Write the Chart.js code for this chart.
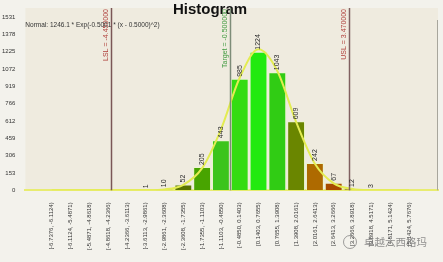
<!DOCTYPE html>
<html>
<head>
<meta charset="utf-8">
<script src="https://cdn.jsdelivr.net/npm/chart.js@4.4.1/dist/chart.umd.min.js"></script>
<style>
    html, body { margin: 0; padding: 0; background: #f3f2ec; }
    canvas { display: block; }
</style>
</head>
<body>
<canvas id="histogram-chart" width="443" height="262"></canvas>
<script>
const binEdges = [-6.7376, -6.1124, -5.4871, -4.8618, -4.2366, -3.6113, -2.9861, -2.3608, -1.7355, -1.1103,
    -0.4850, 0.1403, 0.7655, 1.3908, 2.0161, 2.6413, 3.2666, 3.8918, 4.5171, 5.1424, 5.7676];
const binLabels = ['[-6.7376, -6.1124)', '[-6.1124, -5.4871)', '[-5.4871, -4.8618)', '[-4.8618, -4.2366)',
    '[-4.2366, -3.6113)', '[-3.6113, -2.9861)', '[-2.9861, -2.3608)', '[-2.3608, -1.7355)',
    '[-1.7355, -1.1103)', '[-1.1103, -0.4850)', '[-0.4850, 0.1403)', '[0.1403, 0.7655)',
    '[0.7655, 1.3908)', '[1.3908, 2.0161)', '[2.0161, 2.6413)', '[2.6413, 3.2666)',
    '[3.2666, 3.8918)', '[3.8918, 4.5171)', '[4.5171, 5.1424)', '[5.1424, 5.7676)'];
const counts = [0, 0, 0, 0, 0, 1, 10, 52, 205, 443, 985, 1224, 1043, 609, 242, 67, 12, 3, 0, 0];
const normalFit = [0, 0, 0, 0, 0.1, 0.9, 8, 49, 196, 537, 994, 1245, 1054, 604, 234, 61, 11, 1.3, 0.1, 0];
const yTickLabels = [0, 153, 306, 459, 612, 766, 919, 1072, 1225, 1378, 1531];
const specLines = [
    { label: 'LSL = -4.450000', value: -4.45, color: '#7a5656', text: '#b0403c' },
    { label: 'Target = -0.500000', value: -0.5, color: '#7d8c78', text: '#3f9a3f' },
    { label: 'USL = 3.470000', value: 3.47, color: '#806060', text: '#b0403c' }
];
const titleText = 'Histogram';
const fitText = 'Normal: 1246.1 * Exp(-0.5001 * (x - 0.5000)^2)';
const watermarkText = '卓越六西格玛';

const barColors = ['#5a6a10', '#5a6a10', '#5a6a10', '#5a6a10', '#5a6a10', '#5a6a10', '#4c6408', '#587400',
    '#48a400', '#3cc41c', '#34dc12', '#22ea10', '#30cc14', '#6a8600', '#ae6a00', '#a84a00', '#7a3600', '#7a3600',
    '#7a3600', '#7a3600'];

document.addEventListener('DOMContentLoaded', function() {
    const binCenters = binLabels.map((_, i) => (binEdges[i] + binEdges[i + 1]) / 2);
    const baseFont = 'Arial, "Liberation Sans", sans-serif';

    const backgroundPlugin = {
        id: 'backgroundPlugin',
        beforeDraw(chart) {
            const { ctx, chartArea } = chart;
            ctx.save();
            ctx.fillStyle = '#f3f2ec';
            ctx.fillRect(0, 0, chart.width, chart.height);
            ctx.fillStyle = '#efebdf';
            ctx.fillRect(chartArea.left, 8, chartArea.right - chartArea.left, chartArea.bottom - 8);
            ctx.restore();
        }
    };

    const annotationPlugin = {
        id: 'annotationPlugin',
        afterDatasetsDraw(chart) {
            const { ctx, chartArea, scales } = chart;
            ctx.save();

            // title
            ctx.fillStyle = '#111';
            ctx.font = 'bold 15px ' + baseFont;
            ctx.textAlign = 'center';
            ctx.textBaseline = 'middle';
            ctx.fillText(titleText, 210, 10);

            // right border of the plot
            ctx.strokeStyle = '#a8a69c';
            ctx.lineWidth = 1;
            ctx.beginPath();
            ctx.moveTo(chartArea.right - 0.5, 20);
            ctx.lineTo(chartArea.right - 0.5, chartArea.bottom);
            ctx.stroke();

            // spec limit lines
            specLines.forEach(spec => {
                const x = Math.round(scales.x.getPixelForValue(spec.value)) + 0.5;
                ctx.strokeStyle = spec.color;
                ctx.lineWidth = 1.5;
                ctx.beginPath();
                ctx.moveTo(x, 8);
                ctx.lineTo(x, chartArea.bottom);
                ctx.stroke();

                ctx.save();
                ctx.translate(x - 2, 9);
                ctx.rotate(-Math.PI / 2);
                ctx.fillStyle = spec.text;
                ctx.font = '7px ' + baseFont;
                ctx.textAlign = 'right';
                ctx.textBaseline = 'bottom';
                ctx.fillText(spec.label, 0, 0);
                ctx.restore();
            });

            // bar value labels
            const meta = chart.getDatasetMeta(0);
            ctx.fillStyle = '#2a2a2a';
            ctx.font = '7px ' + baseFont;
            meta.data.forEach((bar, i) => {
                if (!counts[i]) return;
                ctx.save();
                ctx.translate(bar.x, bar.y - 2);
                ctx.rotate(-Math.PI / 2);
                ctx.textAlign = 'left';
                ctx.textBaseline = 'middle';
                ctx.fillText(String(counts[i]), 0, 0);
                ctx.restore();
            });

            // fit equation
            ctx.fillStyle = '#333';
            ctx.font = '6.5px ' + baseFont;
            ctx.textAlign = 'left';
            ctx.textBaseline = 'middle';
            ctx.fillText(fitText, chartArea.left, 25);

            // watermark
            ctx.strokeStyle = 'rgba(120,120,120,0.7)';
            ctx.lineWidth = 1;
            ctx.beginPath();
            ctx.arc(350, 242, 6.5, 0, Math.PI * 2);
            ctx.stroke();
            ctx.fillStyle = 'rgba(110,110,110,0.75)';
            ctx.font = '10.5px "Noto Sans CJK SC", sans-serif';
            ctx.fillText(watermarkText, 364, 242);

            ctx.restore();
        }
    };

    const ctx = document.getElementById('histogram-chart').getContext('2d');
    const histogramChart = new Chart(ctx, {
        type: 'bar',
        data: {
            datasets: [{
                type: 'bar',
                label: 'Count',
                data: binCenters.map((x, i) => ({ x: x, y: counts[i] })),
                backgroundColor: barColors,
                borderColor: 'rgba(235,250,200,0.7)',
                borderWidth: 1,
                barPercentage: 0.95,
                categoryPercentage: 1,
                order: 1
            }, {
                type: 'line',
                label: 'Normal',
                data: binCenters.map((x, i) => ({ x: x, y: normalFit[i] })),
                borderColor: '#e3ec52',
                borderWidth: 2,
                pointRadius: 0,
                cubicInterpolationMode: 'monotone',
                order: 0
            }]
        },
        options: {
            responsive: false,
            animation: false,
            devicePixelRatio: 1,
            layout: { padding: { top: 17, left: 0, right: 5, bottom: 8 } },
            plugins: {
                legend: { display: false },
                tooltip: { enabled: false },
                title: { display: false }
            },
            scales: {
                x: {
                    type: 'linear',
                    min: -6.96,
                    max: 6.08,
                    grid: { display: false },
                    border: { display: true, color: '#e8ec70', width: 2 },
                    afterBuildTicks: scale => {
                        scale.ticks = binCenters.map(v => ({ value: v }));
                    },
                    ticks: {
                        autoSkip: false,
                        maxRotation: 90,
                        minRotation: 90,
                        padding: 4,
                        color: '#333',
                        font: { family: baseFont, size: 6 },
                        callback: (value, index) => binLabels[index]
                    }
                },
                y: {
                    min: 0,
                    max: 1531,
                    grid: { display: false },
                    border: { display: false },
                    afterBuildTicks: scale => {
                        scale.ticks = yTickLabels.map(v => ({ value: v }));
                    },
                    ticks: {
                        padding: 2,
                        color: '#333',
                        font: { family: baseFont, size: 6 },
                        callback: value => String(value)
                    }
                }
            }
        },
        plugins: [backgroundPlugin, annotationPlugin]
    });
});
</script>
</body>
</html>
